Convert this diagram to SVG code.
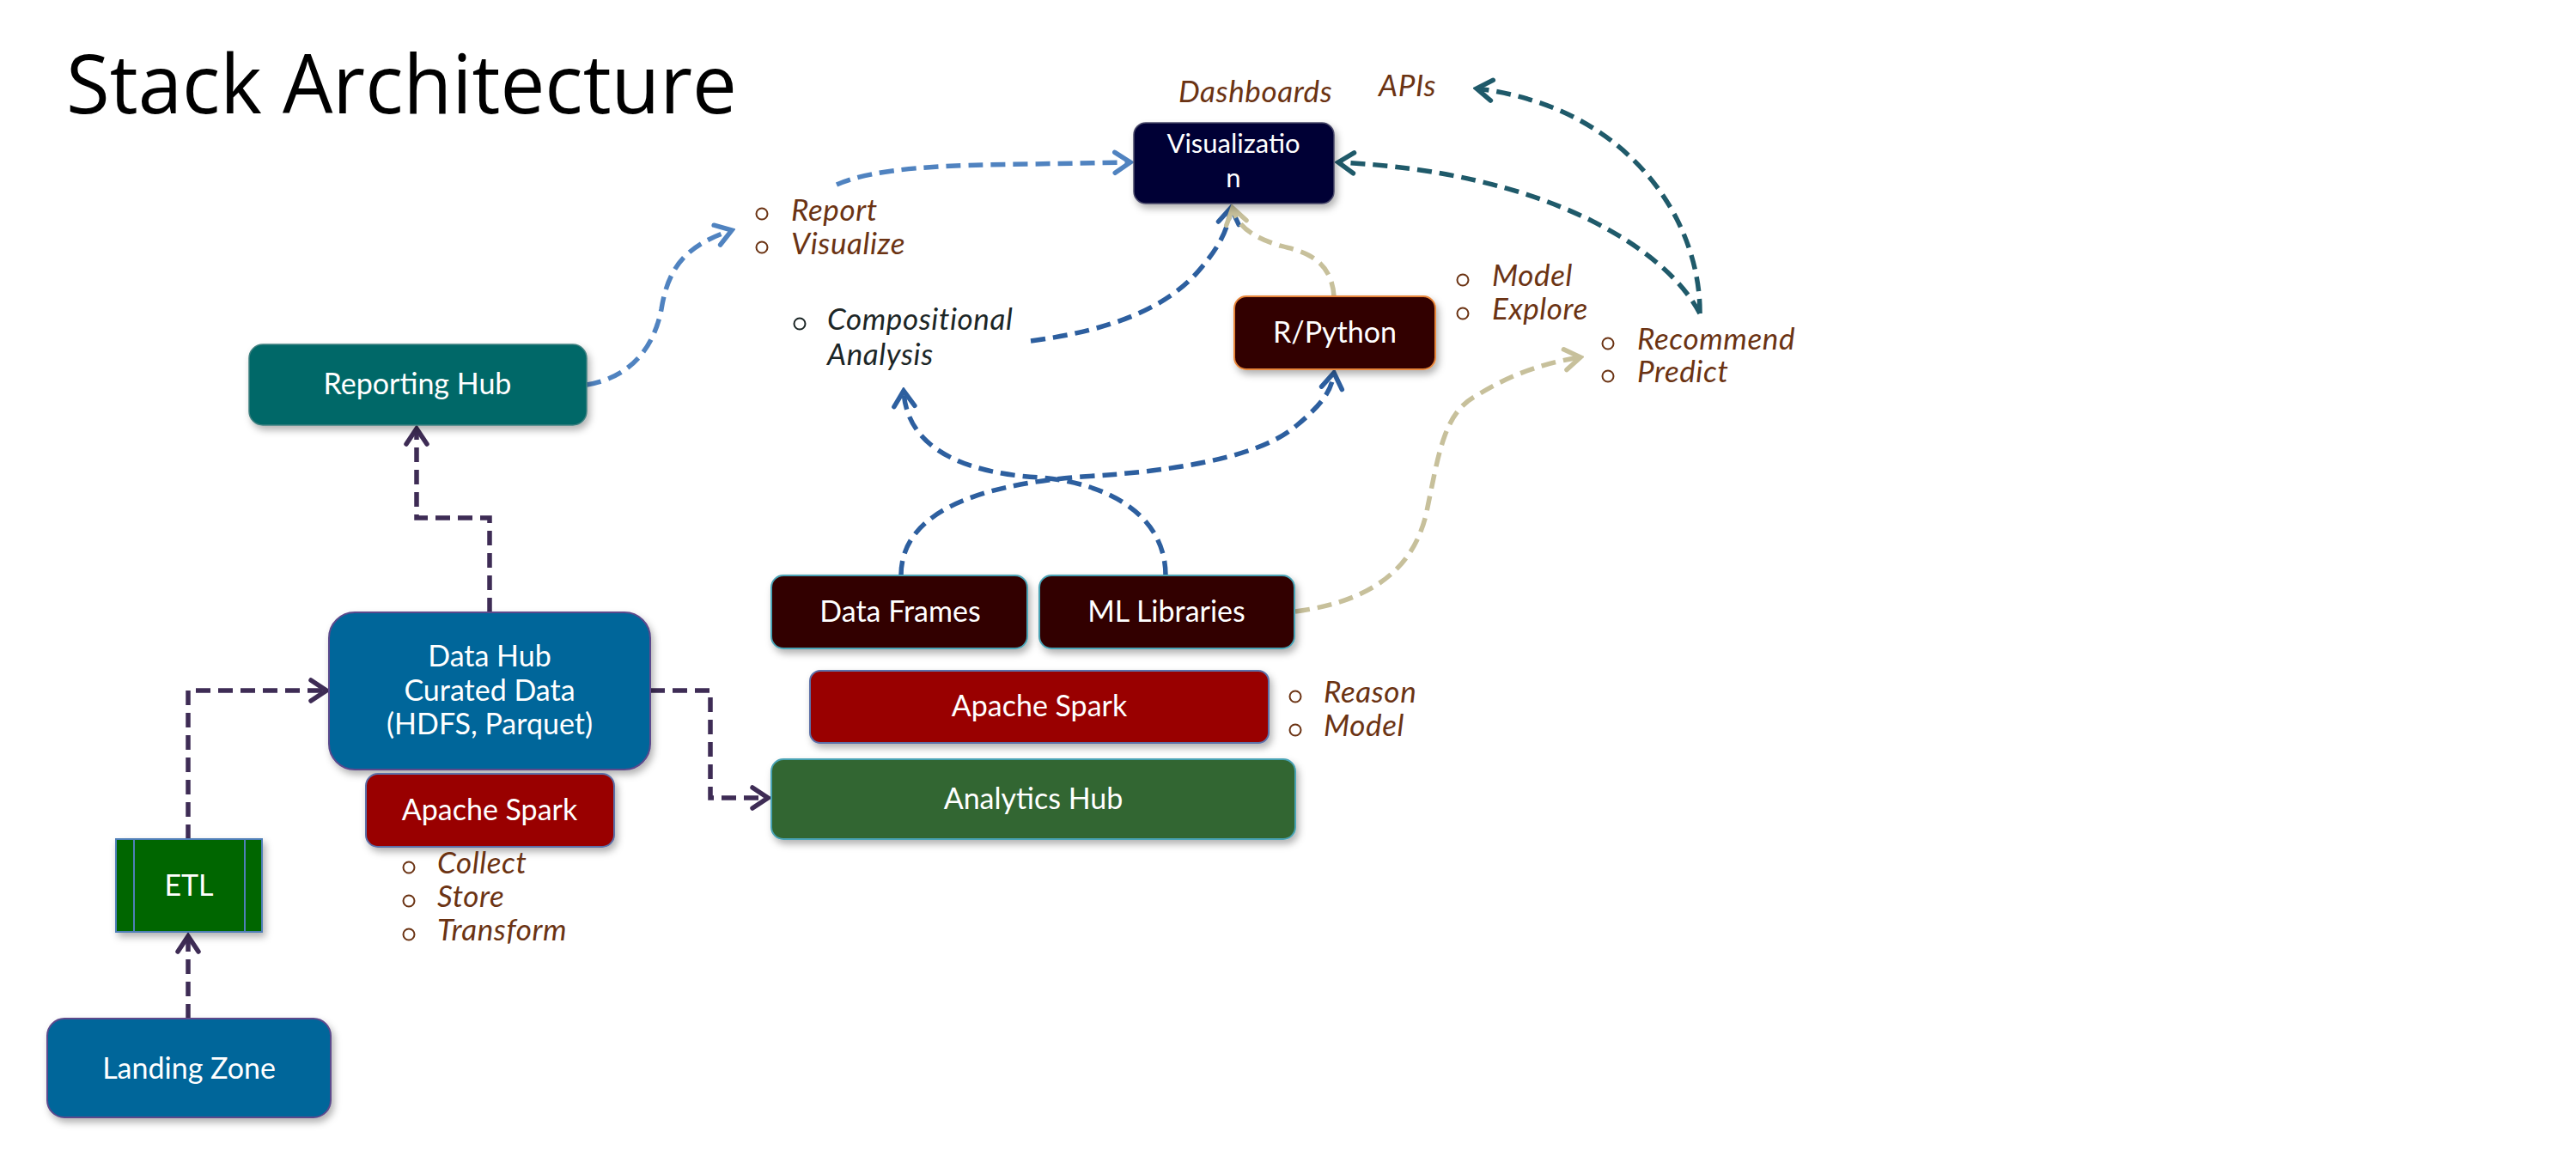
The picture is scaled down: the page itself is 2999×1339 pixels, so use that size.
<svg xmlns="http://www.w3.org/2000/svg" width="2999" height="1339" viewBox="0 0 2999 1339">
<style>
.title{font-family:"Open Sans","Liberation Sans",sans-serif;font-size:96px;fill:#000}
.lbl{font-family:Lato,"Noto Sans",sans-serif;font-size:34px;fill:#fff;text-anchor:middle}
.lbl.v{font-size:31px}
.it{font-family:Lato,"Noto Sans",sans-serif;font-size:35px;letter-spacing:0.6px;font-style:italic;fill:#6b3313}
.itd{font-family:Lato,"Noto Sans",sans-serif;font-size:35px;letter-spacing:0.6px;font-style:italic;fill:#1c2626}
.bul{fill:none;stroke:#6b3313;stroke-width:2}
.buld{fill:none;stroke:#1c2626;stroke-width:2}
.c{fill:none;stroke-width:5.5;stroke-dasharray:17 9}
.pu{stroke:#3e2c55}
.lb{stroke:#5083c0}
.db{stroke:#2d5f9f}
.tn{stroke:#c7c09b}
.tl{stroke:#1f5a6a}
</style>
<defs>
<filter id="sh" x="-10%" y="-10%" width="125%" height="135%">
<feDropShadow dx="3" dy="5" stdDeviation="4" flood-color="#000" flood-opacity="0.3"/>
</filter>
<marker id="mpu" viewBox="-24 -16 28 32" markerWidth="28" markerHeight="32" refX="0" refY="0" orient="auto" markerUnits="userSpaceOnUse"><path d="M-18,-12 L0,0 L-18,12" fill="none" stroke="#3e2c55" stroke-width="5.5" stroke-linecap="round"/></marker>
<marker id="mlb" viewBox="-24 -16 28 32" markerWidth="28" markerHeight="32" refX="0" refY="0" orient="auto" markerUnits="userSpaceOnUse"><path d="M-18,-12 L0,0 L-18,12" fill="none" stroke="#5083c0" stroke-width="5.5" stroke-linecap="round"/></marker>
<marker id="mdb" viewBox="-24 -16 28 32" markerWidth="28" markerHeight="32" refX="0" refY="0" orient="auto" markerUnits="userSpaceOnUse"><path d="M-18,-12 L0,0 L-18,12" fill="none" stroke="#2d5f9f" stroke-width="5.5" stroke-linecap="round"/></marker>
<marker id="mtn" viewBox="-24 -16 28 32" markerWidth="28" markerHeight="32" refX="0" refY="0" orient="auto" markerUnits="userSpaceOnUse"><path d="M-18,-12 L0,0 L-18,12" fill="none" stroke="#c7c09b" stroke-width="5.5" stroke-linecap="round"/></marker>
<marker id="mtl" viewBox="-24 -16 28 32" markerWidth="28" markerHeight="32" refX="0" refY="0" orient="auto" markerUnits="userSpaceOnUse"><path d="M-18,-12 L0,0 L-18,12" fill="none" stroke="#1f5a6a" stroke-width="5.5" stroke-linecap="round"/></marker>
</defs>
<rect width="2999" height="1339" fill="#fff"/>
<text class="title" x="77" y="132" textLength="781" lengthAdjust="spacingAndGlyphs">Stack Architecture</text>

<g id="connectors">
<path class="c pu" d="M219,1186 L219,1090" marker-end="url(#mpu)"/>
<path class="c pu" d="M219,977 L219,804 L380,804" marker-end="url(#mpu)"/>
<path class="c pu" d="M570,713 L570,603 L485,603 L485,499" marker-end="url(#mpu)"/>
<path class="c pu" d="M757,804 L827,804 L827,929 L894,929" marker-end="url(#mpu)"/>
<path class="c lb" d="M683,448 C730,440 760,410 770,360 C778,310 800,285 852,268" marker-end="url(#mlb)"/>
<path class="c lb" d="M974,215 C1020,195 1100,192 1200,191 L1316,189" marker-end="url(#mlb)"/>
<path class="c db" d="M1200,397 C1290,385 1360,360 1400,310 C1425,280 1430,262 1433,242" marker-end="url(#mdb)"/>
<path class="c db" d="M1049,670 C1049,600 1130,565 1260,555 C1380,548 1470,530 1510,495 C1540,470 1550,455 1553,434" marker-end="url(#mdb)"/>
<path class="c db" d="M1357,670 C1357,600 1290,562 1210,556 C1110,550 1055,515 1052,455" marker-end="url(#mdb)"/>
<path class="c tn" d="M1553,345 C1550,300 1515,292 1490,286 C1455,275 1440,262 1435,242" marker-end="url(#mtn)"/>
<path class="c tn" d="M1508,712 C1600,700 1645,660 1660,600 C1675,530 1680,480 1720,460 C1760,435 1800,422 1840,416" marker-end="url(#mtn)"/>
<path class="c tl" d="M1979,365 C1940,290 1800,200 1558,189" marker-end="url(#mtl)"/>
<path class="c tl" d="M1979,365 C1980,260 1900,125 1719,103" marker-end="url(#mtl)"/>
</g>

<g id="visualization">
<rect x="1320" y="143" width="233" height="94" rx="14" fill="#000036" stroke="#4a4a6a" stroke-width="1.5" filter="url(#sh)"/>
<text class="lbl v" x="1436" y="178">Visualizatio</text>
<text class="lbl v" x="1436" y="218">n</text>
</g>
<g id="labels-top">
<text class="it" x="1372" y="119">Dashboards</text>
<text class="it" x="1605" y="112">APIs</text>
</g>
<g id="report-bullets">
<circle class="bul" cx="887" cy="249" r="6.5"/>
<text class="it" x="921" y="257">Report</text>
<circle class="bul" cx="887" cy="288" r="6.5"/>
<text class="it" x="921" y="296">Visualize</text>
</g>
<g id="compositional">
<circle class="buld" cx="931" cy="377" r="6.5"/>
<text class="itd" x="963" y="384">Compositional</text>
<text class="itd" x="963" y="425">Analysis</text>
</g>
<g id="rpython">
<rect x="1437" y="345" width="234" height="85" rx="14" fill="#330000" stroke="#e8863a" stroke-width="2" filter="url(#sh)"/>
<text class="lbl" x="1554" y="399">R/Python</text>
</g>
<g id="model-bullets">
<circle class="bul" cx="1703" cy="326" r="6.5"/>
<text class="it" x="1737" y="333">Model</text>
<circle class="bul" cx="1703" cy="365" r="6.5"/>
<text class="it" x="1737" y="372">Explore</text>
</g>
<g id="recommend-bullets">
<circle class="bul" cx="1872" cy="400" r="6.5"/>
<text class="it" x="1906" y="407">Recommend</text>
<circle class="bul" cx="1872" cy="438" r="6.5"/>
<text class="it" x="1906" y="445">Predict</text>
</g>
<g id="reporting-hub">
<rect x="290" y="401" width="393" height="94" rx="16" fill="#006868" stroke="#3f8080" stroke-width="1.5" filter="url(#sh)"/>
<text class="lbl" x="486" y="459">Reporting Hub</text>
</g>
<g id="data-hub">
<rect x="383" y="713" width="374" height="183" rx="30" fill="#02669a" stroke="#5b4a8c" stroke-width="2" filter="url(#sh)"/>
<text class="lbl" x="570" y="776">Data Hub</text>
<text class="lbl" x="570" y="816">Curated Data</text>
<text class="lbl" x="570" y="855">(HDFS, Parquet)</text>
</g>
<g id="spark-left">
<rect x="426" y="901" width="289" height="85" rx="14" fill="#990000" stroke="#5b6fa8" stroke-width="2" filter="url(#sh)"/>
<text class="lbl" x="570" y="955">Apache Spark</text>
</g>
<g id="collect-bullets">
<circle class="bul" cx="476" cy="1010" r="6.5"/>
<text class="it" x="509" y="1017">Collect</text>
<circle class="bul" cx="476" cy="1049" r="6.5"/>
<text class="it" x="509" y="1056">Store</text>
<circle class="bul" cx="476" cy="1088" r="6.5"/>
<text class="it" x="509" y="1095">Transform</text>
</g>
<g id="etl">
<rect x="135" y="977" width="170" height="108" fill="#006600" stroke="#4f7fb8" stroke-width="2" filter="url(#sh)"/>
<line x1="156" y1="977" x2="156" y2="1085" stroke="#4f7fb8" stroke-width="2"/>
<line x1="285" y1="977" x2="285" y2="1085" stroke="#4f7fb8" stroke-width="2"/>
<text class="lbl" x="220" y="1043">ETL</text>
</g>
<g id="landing-zone">
<rect x="55" y="1186" width="330" height="115" rx="20" fill="#02669a" stroke="#5b4a8c" stroke-width="2" filter="url(#sh)"/>
<text class="lbl" x="220" y="1256">Landing Zone</text>
</g>
<g id="data-frames">
<rect x="898" y="670" width="298" height="85" rx="14" fill="#330000" stroke="#4aa3b5" stroke-width="2" filter="url(#sh)"/>
<text class="lbl" x="1048" y="724">Data Frames</text>
</g>
<g id="ml-libraries">
<rect x="1210" y="670" width="297" height="85" rx="14" fill="#330000" stroke="#4aa3b5" stroke-width="2" filter="url(#sh)"/>
<text class="lbl" x="1358" y="724">ML Libraries</text>
</g>
<g id="spark-center">
<rect x="943" y="781" width="534" height="84" rx="12" fill="#990000" stroke="#5b6fa8" stroke-width="2" filter="url(#sh)"/>
<text class="lbl" x="1210" y="834">Apache Spark</text>
</g>
<g id="reason-bullets">
<circle class="bul" cx="1508" cy="811" r="6.5"/>
<text class="it" x="1541" y="818">Reason</text>
<circle class="bul" cx="1508" cy="850" r="6.5"/>
<text class="it" x="1541" y="857">Model</text>
</g>
<g id="analytics-hub">
<rect x="898" y="884" width="610" height="93" rx="14" fill="#336633" stroke="#4aa3b5" stroke-width="2" filter="url(#sh)"/>
<text class="lbl" x="1203" y="942">Analytics Hub</text>
</g>
</svg>
